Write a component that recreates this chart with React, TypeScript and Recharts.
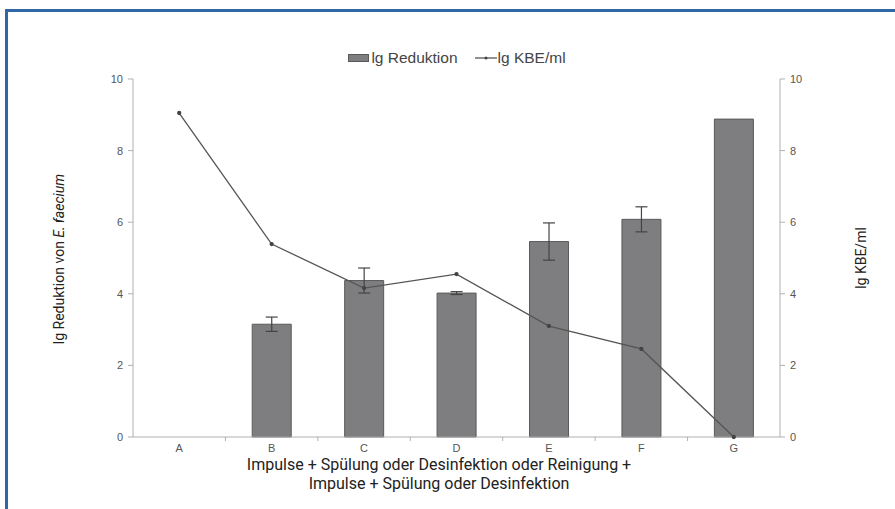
import React from "react";
import { ComposedChart, Bar, Line, XAxis, YAxis, ErrorBar } from "recharts";

const categories = ["A", "B", "C", "D", "E", "F", "G"];
const reduktion = [0, 3.15, 4.37, 4.02, 5.46, 6.08, 8.88];
const reduktionErr = [0, 0.2, 0.35, 0.04, 0.52, 0.35, 0];
const kbe = [9.05, 5.39, 4.16, 4.55, 3.1, 2.46, 0];
const yTicks = [0, 2, 4, 6, 8, 10];

const data = categories.map((c, i) => ({
  name: c,
  red: reduktion[i],
  err: reduktionErr[i],
  kbe: kbe[i],
}));

const W = 895;
const H = 509;
const PLOT_LEFT = 133;
const PLOT_RIGHT = 780;
const PLOT_TOP = 79;
const PLOT_BOTTOM = 437;
const AXIS_W = 60;
const XAXIS_H = 30;
const BAND = (PLOT_RIGHT - PLOT_LEFT) / categories.length;

const titleFont = "Roboto, 'Liberation Sans', sans-serif";
const tickFont = "'Liberation Sans', Arial, sans-serif";

const XTick = (props: any) => {
  const { x, payload, index } = props;
  return (
    <g>
      {index > 0 && (
        <line x1={x - BAND / 2} x2={x - BAND / 2} y1={PLOT_BOTTOM} y2={PLOT_BOTTOM + 4} stroke="#b0b0b0" />
      )}
      <text x={x} y={PLOT_BOTTOM + 15} textAnchor="middle" fontSize={11} fill="#555" fontFamily={tickFont}>
        {payload.value}
      </text>
    </g>
  );
};

const LegendBox = () => (
  <div
    style={{
      position: "absolute",
      left: 0,
      top: 48,
      width: 914,
      display: "flex",
      justifyContent: "center",
      alignItems: "center",
      fontFamily: tickFont,
      fontSize: 15.5,
      color: "#444",
      lineHeight: "20px",
    }}
  >
    <span style={{ display: "inline-block", width: 19, height: 6, background: "#7e7e80", border: "1px solid #5a5a5a", marginRight: 2 }} />
    <span style={{ marginRight: 17 }}>lg Reduktion</span>
    <svg width={22} height={8} style={{ marginRight: 1 }}>
      <line x1={0} x2={22} y1={4} y2={4} stroke="#555" strokeWidth={1.3} />
      <circle cx={11} cy={4} r={1.5} fill="#444" />
    </svg>
    <span>lg KBE/ml</span>
  </div>
);

const LeftTitle = () => {
  const cx = 60;
  const cy = 259;
  return (
    <text
      x={cx}
      y={cy}
      transform={`rotate(-90 ${cx} ${cy})`}
      textAnchor="middle"
      dominantBaseline="middle"
      fontFamily={titleFont}
      fontSize={14}
      fill="#222"
    >
      lg Reduktion von <tspan fontStyle="italic">E. faecium</tspan>
    </text>
  );
};

const RightTitle = () => {
  const cx = 862;
  const cy = 258;
  return (
    <text
      x={cx}
      y={cy}
      transform={`rotate(-90 ${cx} ${cy})`}
      textAnchor="middle"
      dominantBaseline="middle"
      fontFamily={titleFont}
      fontSize={14}
      fill="#222"
    >
      lg KBE/ml
    </text>
  );
};

export default function App() {
  return (
    <div style={{ position: "absolute", left: 0, top: 0, width: W, height: H, background: "#fff", overflow: "hidden" }}>
      <div
        style={{
          position: "absolute",
          left: 5,
          top: 9,
          width: W + 20,
          height: H + 20,
          borderLeft: "3px solid #2f68a4",
          borderTop: "3px solid #2f68a4",
        }}
      />
      <LegendBox />
      <ComposedChart
        width={W}
        height={H}
        data={data}
        margin={{
          top: PLOT_TOP,
          left: PLOT_LEFT - AXIS_W,
          right: W - PLOT_RIGHT - AXIS_W,
          bottom: H - PLOT_BOTTOM - XAXIS_H,
        }}
        barCategoryGap="29%"
        style={{ position: "absolute", left: 0, top: 0 }}
      >
        <XAxis
          dataKey="name"
          height={XAXIS_H}
          axisLine={{ stroke: "#b0b0b0" }}
          tickLine={false}
          tick={<XTick />}
          interval={0}
        />
        <YAxis
          yAxisId="left"
          width={AXIS_W}
          domain={[0, 10]}
          ticks={yTicks}
          axisLine={{ stroke: "#b0b0b0" }}
          tickLine={{ stroke: "#b0b0b0" }}
          tickSize={5}
          tickMargin={5}
          tick={{ fontSize: 11, fill: "#555", fontFamily: tickFont }}
        />
        <YAxis
          yAxisId="right"
          orientation="right"
          width={AXIS_W}
          domain={[0, 10]}
          ticks={yTicks}
          axisLine={{ stroke: "#b0b0b0" }}
          tickLine={{ stroke: "#b0b0b0" }}
          tickSize={5}
          tickMargin={5}
          tick={{ fontSize: 11, fill: "#555", fontFamily: tickFont }}
        />
        <Bar
          yAxisId="left"
          dataKey="red"
          fill="#7e7e80"
          stroke="#5a5a5a"
          strokeWidth={1}
          isAnimationActive={false}
        >
          <ErrorBar dataKey="err" width={6} stroke="#444" strokeWidth={1.2} />
        </Bar>
        <Line
          yAxisId="right"
          dataKey="kbe"
          stroke="#555"
          strokeWidth={1.3}
          dot={{ r: 1.5, fill: "#444", stroke: "#444" }}
          isAnimationActive={false}
        />
        <LeftTitle />
        <RightTitle />
        <text
          x={439}
          y={466}
          textAnchor="middle"
          dominantBaseline="middle"
          fontFamily={titleFont}
          fontSize={16}
          fill="#222"
        >
          Impulse + Spülung oder Desinfektion oder Reinigung +
        </text>
        <text
          x={439}
          y={485}
          textAnchor="middle"
          dominantBaseline="middle"
          fontFamily={titleFont}
          fontSize={16}
          fill="#222"
        >
          Impulse + Spülung oder Desinfektion
        </text>
      </ComposedChart>
    </div>
  );
}
